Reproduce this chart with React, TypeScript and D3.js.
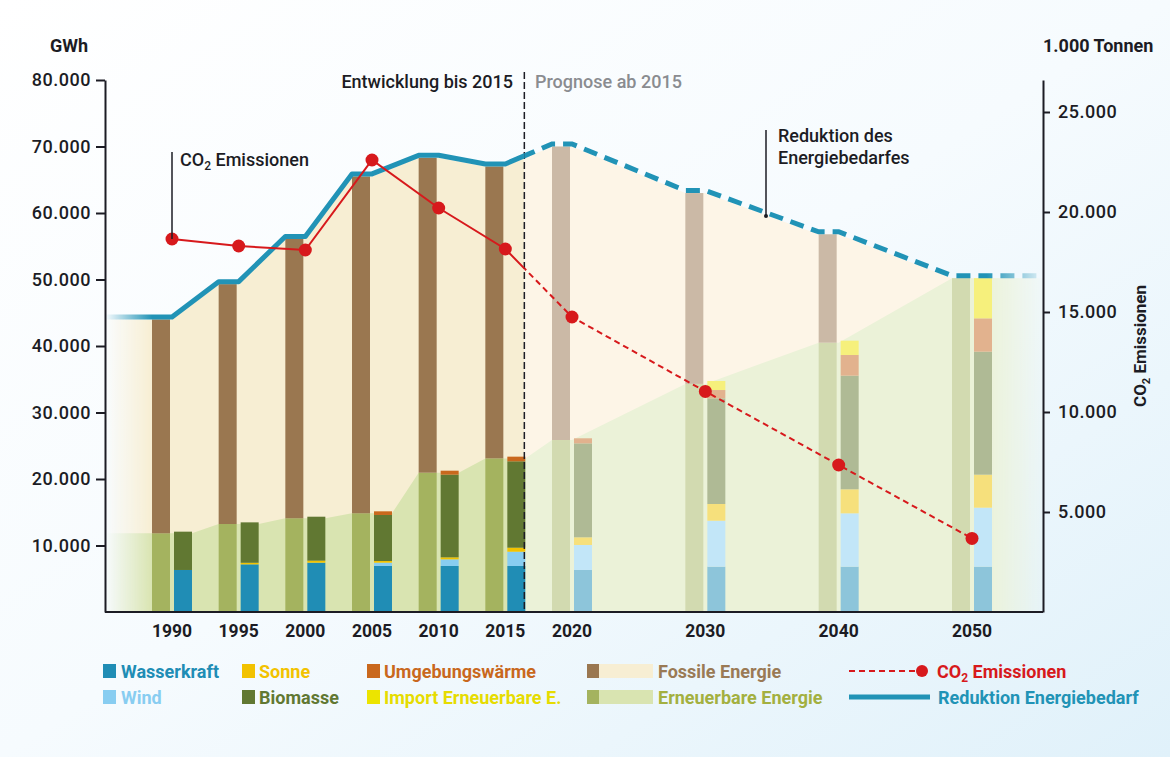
import React, { useEffect, useRef } from "react";
import * as d3 from "d3";

// --- data (GWh, CO2 in 1.000 t) ---
const years = [1990, 1995, 2000, 2005, 2010, 2015, 2020, 2030, 2040, 2050];
const demand = [44000, 49300, 56100, 65500, 68300, 67000, 70000, 63000, 56800, 50200];
const renewables = [11830, 13230, 14090, 14840, 20950, 23100, 25860, 34300, 40500, 50200];
const wasserkraft = [6320, 7170, 7420, 6920, 6920, 6920, 6320, 6820, 6820, 6820];
const wind = [0, 0, 0, 500, 1000, 2150, 3760, 6910, 8020, 8870];
const sonne = [0, 230, 300, 250, 300, 600, 1150, 2510, 3610, 4960];
const biomasse = [5760, 6080, 6610, 6920, 12430, 12990, 14130, 15890, 17090, 18500];
const umgebung = [0, 0, 0, 550, 600, 700, 760, 1250, 3110, 5010];
const importEE = [0, 0, 0, 0, 0, 0, 0, 1360, 2150, 6040];
const co2 = [18650, 18300, 18100, 22600, 20200, 18150, 14750, 11030, 7350, 3680];
const gwhTicks = [10000, 20000, 30000, 40000, 50000, 60000, 70000, 80000];
const co2Ticks = [5000, 10000, 15000, 20000, 25000];
const lastHistoric = 2015;

const sources = [
  { key: "wasserkraft", values: wasserkraft, past: "#208db5", future: "#8dc5da" },
  { key: "wind", values: wind, past: "#88cdf1", future: "#c2e6f8" },
  { key: "sonne", values: sonne, past: "#f2c200", future: "#f6e07c" },
  { key: "biomasse", values: biomasse, past: "#617832", future: "#afba95" },
  { key: "umgebung", values: umgebung, past: "#c9681d", future: "#e2b28e" },
  { key: "import", values: importEE, past: "#ece400", future: "#f6f07c" },
];

const W = 1170, H = 757;
const left = 105, right = 1043, top = 80, bottom = 612;
const font = "Roboto, 'DejaVu Sans', sans-serif";
const ink = "#1c1c24";

const de = d3.formatLocale({ decimal: ",", thousands: ".", grouping: [3], currency: ["", "€"] });
const fmt = de.format(",");

const x = d3.scaleLinear().domain([1990, 2050]).range([172, 972]);
const yL = d3.scaleLinear().domain([0, 80000]).range([bottom, top]);
const yR = d3.scaleLinear().domain([0, 26600]).range([bottom, top]);
const divX = x(lastHistoric) + 19;

const table = years.map((yr, i) => {
  const row: any = { year: yr };
  sources.forEach(s => (row[s.key] = s.values[i]));
  return row;
});
const stacked = d3.stack().keys(sources.map(s => s.key))(table);

export default function App() {
  const leftAxis = useRef<SVGGElement>(null);
  const rightAxis = useRef<SVGGElement>(null);

  useEffect(() => {
    const la = d3.select(leftAxis.current);
    la.call(d3.axisLeft(yL).tickValues(gwhTicks).tickSize(9).tickSizeOuter(0).tickPadding(5).tickFormat(d => fmt(d as number)) as any);
    const ra = d3.select(rightAxis.current);
    ra.call(d3.axisRight(yR).tickValues(co2Ticks).tickSize(7).tickSizeOuter(0).tickPadding(8).tickFormat(d => fmt(d as number)) as any);
    [la, ra].forEach(g => {
      g.selectAll("path, line").attr("stroke", ink).attr("stroke-width", 2);
      g.selectAll("text").attr("font-family", font).attr("font-size", 18).attr("letter-spacing", 0.5)
        .attr("font-weight", 500).attr("fill", ink);
    });
  }, []);

  const demandPts: [number, number][] = [
    [left, demand[0]],
    ...years.flatMap((yr, i) => [[x(yr) - 20, demand[i]], [x(yr), demand[i]]] as [number, number][]),
    [right, demand[demand.length - 1]],
  ];
  const greenPts: [number, number][] = [
    [left, renewables[0]],
    ...years.flatMap((yr, i) =>
      (yr <= lastHistoric
        ? [[x(yr) - 20, renewables[i]], [x(yr) + 20, renewables[i]]]
        : [[x(yr) - 20, renewables[i]], [x(yr), renewables[i]]]) as [number, number][]),
    [right, renewables[renewables.length - 1]],
  ];
  const area = d3.area<[number, number]>().x(d => d[0]).y0(bottom).y1(d => yL(d[1]));
  const demandLine = d3.line<[number, number]>().x(d => d[0]).y(d => yL(d[1]) - 2.5);
  const co2Line = d3.line<number>().x((_, i) => x(years[i])).y(d => yR(d));

  const bw = 18;
  const isPast = (yr: number) => yr <= lastHistoric;

  const legendText = { fontFamily: font, fontSize: 18, fontWeight: 700 } as const;
  const noteText = { fontFamily: font, fontSize: 18, fontWeight: 500 } as const;

  return (
    <div style={{ position: "absolute", left: 0, top: 0 }}>
      <svg width={W} height={H} viewBox={`0 0 ${W} ${H}`}>
        <defs>
          <linearGradient id="bg" x1="0" y1="0" x2="1" y2="1">
            <stop offset="0" stopColor="#ffffff" />
            <stop offset="0.5" stopColor="#f6fbfe" />
            <stop offset="1" stopColor="#e0f1fa" />
          </linearGradient>
          <linearGradient id="fadeGrad" gradientUnits="userSpaceOnUse" x1={left} x2={right} y1="0" y2="0">
            <stop offset="0" stopColor="#000" />
            <stop offset="0.05" stopColor="#fff" />
            <stop offset="0.94" stopColor="#fff" />
            <stop offset="1" stopColor="#111" />
          </linearGradient>
          <mask id="fade" maskUnits="userSpaceOnUse" x="0" y="0" width={W} height={H}>
            <rect x={left} y={0} width={right - left} height={bottom} fill="url(#fadeGrad)" />
          </mask>
          <clipPath id="past"><rect x={left} y={0} width={divX - left} height={bottom} /></clipPath>
          <clipPath id="future"><rect x={divX} y={0} width={right - divX + 10} height={bottom} /></clipPath>
        </defs>

        <rect width={W} height={H} fill="url(#bg)" />

        {/* areas */}
        <g mask="url(#fade)">
          <g clipPath="url(#past)">
            <path d={area(demandPts)!} fill="#f7eed3" />
            <path d={area(greenPts)!} fill="#d9e4b1" />
          </g>
          <g clipPath="url(#future)">
            <path d={area(demandPts)!} fill="#fdf5e7" />
            <path d={area(greenPts)!} fill="#ebf2d8" />
          </g>
        </g>

        {/* left bars: renewable + fossil */}
        {years.map((yr, i) => (
          <g key={yr}>
            <rect x={x(yr) - 20} width={bw} y={yL(renewables[i])} height={bottom - yL(renewables[i])}
              fill={isPast(yr) ? "#a4b35f" : "#d2dab0"} />
            <rect x={x(yr) - 20} width={bw} y={yL(demand[i])} height={yL(renewables[i]) - yL(demand[i])}
              fill={isPast(yr) ? "#9a7750" : "#cbb9a6"} />
          </g>
        ))}

        {/* right bars: renewable breakdown */}
        {stacked.map((layer, k) => (
          <g key={layer.key}>
            {layer.map((d, i) => (d[1] - d[0] > 0 ? (
              <rect key={i} x={x(years[i]) + 2} width={bw} y={yL(d[1])} height={yL(d[0]) - yL(d[1])}
                fill={isPast(years[i]) ? sources[k].past : sources[k].future} />
            ) : null))}
          </g>
        ))}

        {/* divider */}
        <line x1={divX} x2={divX} y1={72} y2={bottom} stroke={ink} strokeWidth={1.5} strokeDasharray="7 3" />

        {/* energy demand line */}
        <g mask="url(#fade)">
          <path d={demandLine(demandPts)!} fill="none" stroke="#2193b6" strokeWidth={5} clipPath="url(#past)" strokeLinejoin="round" />
          <path d={demandLine(demandPts)!} fill="none" stroke="#2193b6" strokeWidth={5} clipPath="url(#future)" strokeDasharray="14 8" />
        </g>

        {/* CO2 */}
        <path d={co2Line(co2)!} fill="none" stroke="#d7191c" strokeWidth={2} clipPath="url(#past)" />
        <path d={co2Line(co2)!} fill="none" stroke="#d7191c" strokeWidth={2} clipPath="url(#future)" strokeDasharray="6 4" />
        {co2.map((v, i) => (
          <circle key={i} cx={x(years[i])} cy={yR(v)} r={6.5} fill="#d7191c" />
        ))}

        {/* axes */}
        <g ref={leftAxis} transform={`translate(${left},0)`} />
        <g ref={rightAxis} transform={`translate(${right},0)`} />
        <line x1={left} x2={right} y1={bottom} y2={bottom} stroke={ink} strokeWidth={2} />
        {years.map(yr => (
          <text key={yr} x={x(yr)} y={637} textAnchor="middle" fontFamily={font} fontSize={17.5} fontWeight={700} fill={ink}>{yr}</text>
        ))}

        {/* axis titles */}
        <text x={50} y={52} fontFamily={font} fontSize={18} fontWeight={700} fill={ink}>GWh</text>
        <text x={1043} y={52} fontFamily={font} fontSize={18} fontWeight={700} fill={ink}>1.000 Tonnen</text>
        <text transform="translate(1146,346) rotate(-90)" textAnchor="middle" fontFamily={font} fontSize={17} fontWeight={700} fill={ink}>
          CO<tspan fontSize={11} dy={4}>2</tspan><tspan dy={-4}> Emissionen</tspan>
        </text>

        {/* annotations */}
        <text x={513} y={88} textAnchor="end" {...noteText} fill={ink}>Entwicklung bis 2015</text>
        <text x={535} y={88} {...noteText} fill="#8a8c90">Prognose ab 2015</text>
        <line x1={x(1990)} x2={x(1990)} y1={152} y2={yR(co2[0])} stroke={ink} strokeWidth={1.5} />
        <text x={180} y={166} {...noteText} fill={ink}>
          CO<tspan fontSize={12} dy={4}>2</tspan><tspan dy={-4}> Emissionen</tspan>
        </text>
        <line x1={766} x2={766} y1={130} y2={216} stroke={ink} strokeWidth={1.5} />
        <circle cx={766} cy={216} r={2} fill={ink} />
        <text x={778} y={142} {...noteText} fill={ink}>Reduktion des</text>
        <text x={778} y={164} {...noteText} fill={ink}>Energiebedarfes</text>

        {/* legend */}
        <g>
          <rect x={103} y={664} width={13} height={14} fill="#208db5" />
          <text x={121} y={678} {...legendText} fill="#208db5">Wasserkraft</text>
          <rect x={103} y={690} width={13} height={14} fill="#88cdf1" />
          <text x={121} y={704} {...legendText} fill="#88cdf1">Wind</text>

          <rect x={242} y={664} width={13} height={14} fill="#f2c200" />
          <text x={259} y={678} {...legendText} fill="#f2c200">Sonne</text>
          <rect x={242} y={690} width={13} height={14} fill="#617832" />
          <text x={259} y={704} {...legendText} fill="#617832">Biomasse</text>

          <rect x={367} y={664} width={13} height={14} fill="#c9681d" />
          <text x={384} y={678} {...legendText} fill="#c9681d">Umgebungswärme</text>
          <rect x={367} y={690} width={13} height={14} fill="#ece400" />
          <text x={384} y={704} {...legendText} fill="#e6dc00">Import Erneuerbare E.</text>

          <rect x={587} y={664} width={12} height={14} fill="#9a7750" />
          <rect x={599} y={664} width={54} height={14} fill="#f7eed3" />
          <text x={658} y={678} {...legendText} fill="#9a7a55">Fossile Energie</text>
          <rect x={587} y={690} width={12} height={14} fill="#a4b35f" />
          <rect x={599} y={690} width={54} height={14} fill="#d9e4b1" />
          <text x={658} y={704} {...legendText} fill="#a3b040">Erneuerbare Energie</text>

          <line x1={849} x2={918} y1={671} y2={671} stroke="#d7191c" strokeWidth={2} strokeDasharray="6 4" />
          <circle cx={922} cy={671} r={6} fill="#d7191c" />
          <text x={937} y={678} {...legendText} fill="#d7191c">
            CO<tspan fontSize={12} dy={4}>2</tspan><tspan dy={-4}> Emissionen</tspan>
          </text>
          <line x1={849} x2={930} y1={697} y2={697} stroke="#2193b6" strokeWidth={5} />
          <text x={938} y={704} {...legendText} fill="#2193b6">Reduktion Energiebedarf</text>
        </g>
      </svg>
    </div>
  );
}
